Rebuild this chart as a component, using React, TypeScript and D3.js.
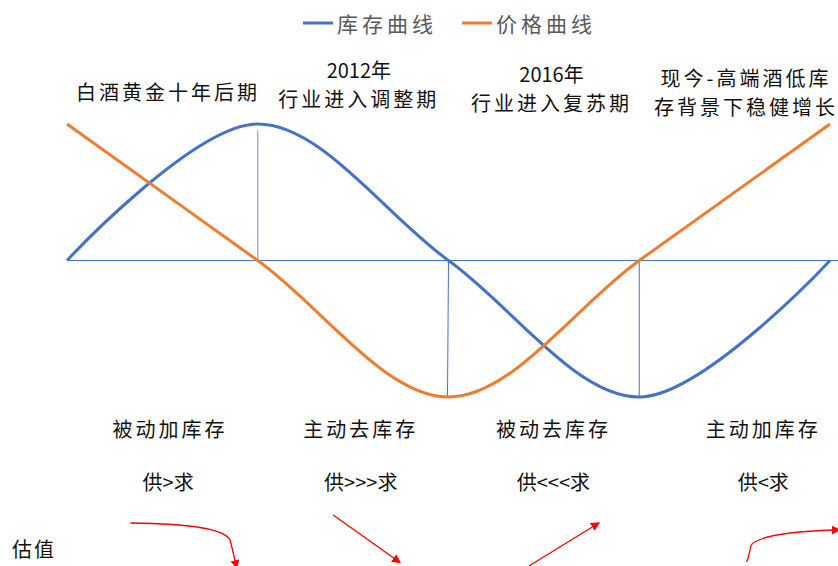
import React from "react";
import * as d3 from "d3";

const stages = [0, 1, 2, 3, 4];
const inventory = [0, 1, 0, -1, 0];
const price = [1, 0, -1, 0, 1];
const legendItems = [
  { name: "库存曲线", color: "#4472C4" },
  { name: "价格曲线", color: "#ED7D31" },
];
const topNotes = [
  { pos: 0.53, lines: ["白酒黄金十年后期"], y: [91] },
  { pos: 1.53, lines: ["2012年", "行业进入调整期"], y: [69, 98] },
  { pos: 2.54, lines: ["2016年", "行业进入复苏期"], y: [73, 102] },
  { pos: 3.56, lines: ["现今-高端酒低库", "存背景下稳健增长"], y: [77, 106] },
];
const phaseLabels = ["被动加库存", "主动去库存", "被动去库存", "主动加库存"];
const phasePos = [0.54, 1.54, 2.55, 3.65];
const supplyDemand = ["供>求", "供>>>求", "供<<<求", "供<求"];
const supplyPos = [0.53, 1.54, 2.55, 3.65];
const valuationTrend = ["先升后降", "下降", "上升", "回升"];

const W = 838;
const H = 566;
const FONT = "'Noto Sans CJK SC', 'Noto Sans', sans-serif";

export default function App() {
  const x = d3.scaleLinear().domain([0, 4]).range([67, 830]);
  const y = d3.scaleLinear().domain([-1, 1]).range([397, 124]);
  const line = d3
    .line<number>()
    .x((_, i) => x(stages[i]))
    .y((d) => y(d))
    .curve(d3.curveCardinal.tension(0));

  const cx = (i: number) => x(i + 0.5);
  const arrowPaths = valuationTrend.map((_, i) => {
    const c = cx(i);
    if (i === 0) return `M${c - 32},523 Q${c + 63},524 ${c + 68},541 L${c + 73},562`;
    if (i === 1) return `M${c - 20},515 L${c + 42},559`;
    if (i === 2) return `M${c - 15},566 L${c + 50},526`;
    return `M${c + 12},562 C${c + 17},550 ${c + 14},545 ${c + 20},542 C${c + 35},533 ${c + 70},531 ${c + 99},530`;
  });

  return (
    <svg
      width={W}
      height={H}
      style={{ position: "absolute", left: 0, top: 0, background: "#fff" }}
      fontFamily={FONT}
    >
      <defs>
        <marker
          id="arrowHead"
          viewBox="0 0 10 10"
          refX="2"
          refY="5"
          markerWidth="9"
          markerHeight="9"
          markerUnits="userSpaceOnUse"
          orient="auto"
        >
          <path d="M0,0 L10,5 L0,10 Z" fill="#FF0000" />
        </marker>
      </defs>

      {/* legend */}
      <g>
        {legendItems.map((item, i) => {
          const x0 = 303 + i * 159;
          return (
            <g key={item.name}>
              <line x1={x0} x2={x0 + 30} y1={23} y2={23} stroke={item.color} strokeWidth={3} />
              <text
                x={x0 + 34}
                y={23}
                dominantBaseline="central"
                fontSize={21}
                letterSpacing={4}
                fill="#595959"
              >
                {item.name}
              </text>
            </g>
          );
        })}
      </g>

      {/* zero axis and verticals */}
      <line x1={x(0)} x2={W} y1={y(0)} y2={y(0)} stroke="#4472C4" strokeWidth={1} />
      <line x1={x(1)} x2={x(1)} y1={y(0.955)} y2={y(0)} stroke="#6F8FD0" strokeWidth={1} />
      <line x1={x(2)} x2={x(2) - 1} y1={y(0)} y2={y(-1)} stroke="#4472C4" strokeWidth={1} />
      <line x1={x(3)} x2={x(3)} y1={y(0)} y2={y(-1)} stroke="#4472C4" strokeWidth={1} />

      {/* curves */}
      <path d={line(inventory) || ""} fill="none" stroke="#4472C4" strokeWidth={3} />
      <path d={line(price) || ""} fill="none" stroke="#ED7D31" strokeWidth={3} />

      {/* top notes */}
      {topNotes.map((n, i) =>
        n.lines.map((t, j) => (
          <text
            key={`${i}-${j}`}
            x={x(n.pos)}
            y={n.y[j]}
            textAnchor="middle"
            dominantBaseline="central"
            fontSize={20}
            letterSpacing={/\d/.test(t) ? 0 : 3}
            fill="#111"
          >
            {t}
          </text>
        ))
      )}

      {/* phase labels */}
      {phaseLabels.map((t, i) => (
        <text
          key={t + i}
          x={x(phasePos[i])}
          y={428}
          textAnchor="middle"
          dominantBaseline="central"
          fontSize={20}
          letterSpacing={3}
          fill="#111"
        >
          {t}
        </text>
      ))}
      {supplyDemand.map((t, i) => (
        <text
          key={t + i}
          x={x(supplyPos[i])}
          y={481}
          textAnchor="middle"
          dominantBaseline="central"
          fontSize={20}
          fill="#111"
        >
          {t}
        </text>
      ))}

      {/* valuation */}
      <text x={12} y={548} dominantBaseline="central" fontSize={20} letterSpacing={2} fill="#111">
        估值
      </text>
      {arrowPaths.map((d, i) => (
        <path
          key={i}
          d={d}
          fill="none"
          stroke="#FF0000"
          strokeWidth={1.3}
          markerEnd="url(#arrowHead)"
        />
      ))}
    </svg>
  );
}
